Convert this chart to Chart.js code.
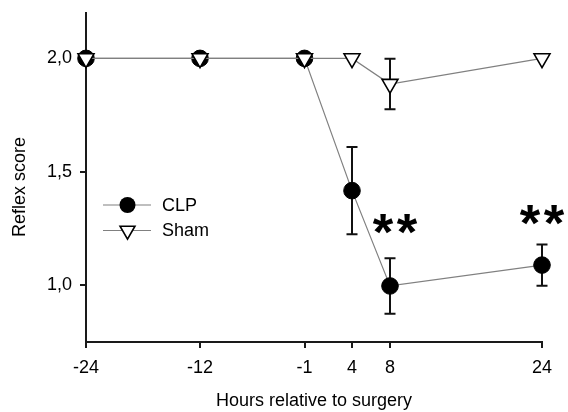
<!DOCTYPE html>
<html>
<head>
<meta charset="utf-8">
<script src="https://cdn.jsdelivr.net/npm/chart.js@4/dist/chart.umd.min.js"></script>
<style>
  html, body { margin: 0; padding: 0; background: #fff; }
  #wrap { width: 568px; height: 412px; }
</style>
</head>
<body>
<div id="wrap"><canvas id="c" width="568" height="412"></canvas></div>
<script>
// Reflex score over time, CLP vs. Sham (mean ± SEM)
const hours    = [-24, -12, -1, 4, 8, 24];
const clpMean  = [2.0, 2.0, 2.0, 1.417, 0.997, 1.089];
const clpSem   = [0, 0, 0, 0.192, 0.122, 0.091];
const shamMean = [2.0, 2.0, 2.0, 2.0, 1.887, 2.0];
const shamSem  = [0, 0, 0, 0, 0.111, 0];
const xTicks   = [-24, -12, -1, 4, 8, 24];
const yTicks   = [1.0, 1.5, 2.0];
const seriesNames = ['CLP', 'Sham'];
const signifHours = [8, 24];   // time points marked "**"

const FONT = '"Liberation Sans", Arial, Helvetica, sans-serif';
const LINE_GREY = '#808080';

function pts(xs, ys) { return xs.map((x, i) => ({ x: x, y: ys[i] })); }

function drawMarker(ctx, kind, x, y) {
  ctx.save();
  ctx.strokeStyle = '#000';
  ctx.lineWidth = 1.6;
  if (kind === 'circle') {
    ctx.fillStyle = '#000';
    ctx.beginPath();
    ctx.arc(x, y, 8, 0, Math.PI * 2);
    ctx.fill();
  } else {
    const r = 8.6;
    ctx.fillStyle = '#fff';
    ctx.beginPath();
    ctx.moveTo(x, y + r);
    ctx.lineTo(x - r * Math.sin(Math.PI / 3), y - r / 2);
    ctx.lineTo(x + r * Math.sin(Math.PI / 3), y - r / 2);
    ctx.closePath();
    ctx.fill();
    ctx.stroke();
  }
  ctx.restore();
}

// error bars (under the markers), legend, y title and significance marks
const extras = {
  id: 'extras',
  beforeDatasetsDraw(chart) {
    const ctx = chart.ctx, xs = chart.scales.x, ys = chart.scales.y;
    ctx.save();
    ctx.strokeStyle = '#111';
    ctx.lineWidth = 2;
    [[clpMean, clpSem], [shamMean, shamSem]].forEach(([m, s]) => {
      hours.forEach((h, i) => {
        if (!s[i]) return;
        const px = xs.getPixelForValue(h);
        const top = ys.getPixelForValue(m[i] + s[i]);
        const bot = ys.getPixelForValue(m[i] - s[i]);
        ctx.beginPath();
        ctx.moveTo(px, top); ctx.lineTo(px, bot);
        ctx.moveTo(px - 5.5, top); ctx.lineTo(px + 5.5, top);
        ctx.moveTo(px - 5.5, bot); ctx.lineTo(px + 5.5, bot);
        ctx.stroke();
      });
    });
    ctx.restore();
  },
  afterDatasetsDraw(chart) {
    const ctx = chart.ctx, xs = chart.scales.x, ys = chart.scales.y;
    // y-axis title
    ctx.save();
    ctx.fillStyle = '#000';
    ctx.font = '18px ' + FONT;
    ctx.textAlign = 'center';
    ctx.textBaseline = 'middle';
    ctx.translate(20, 187);
    ctx.rotate(-Math.PI / 2);
    ctx.fillText('Reflex score', 0, 0);
    ctx.restore();

    // legend
    const lx = 103, ly = 205, gap = 25.5;
    ['circle', 'triangle'].forEach((k, i) => {
      const y = ly + i * gap;
      ctx.save();
      ctx.strokeStyle = LINE_GREY;
      ctx.lineWidth = 1.2;
      ctx.beginPath();
      ctx.moveTo(lx, y); ctx.lineTo(lx + 48, y);
      ctx.stroke();
      ctx.restore();
      drawMarker(ctx, k, lx + 24.5, y);
      ctx.save();
      ctx.fillStyle = '#000';
      ctx.font = '18px ' + FONT;
      ctx.textBaseline = 'middle';
      ctx.textAlign = 'left';
      ctx.fillText(seriesNames[i], lx + 59, y + 1);
      ctx.restore();
    });

    // significance asterisks, sized so each glyph is ~20 px tall
    ctx.save();
    ctx.fillStyle = '#000';
    ctx.font = 'bold 50px ' + FONT;
    let m = ctx.measureText('*');
    const size = 50 * 20 / (m.actualBoundingBoxAscent + m.actualBoundingBoxDescent);
    ctx.font = 'bold ' + size.toFixed(1) + 'px ' + FONT;
    m = ctx.measureText('*');
    ctx.textAlign = 'center';
    ctx.textBaseline = 'alphabetic';
    const lift = [24, 19], shift = [5, 0];
    signifHours.forEach((h, j) => {
      const i = hours.indexOf(h);
      const cx = xs.getPixelForValue(h) + shift[j];
      const glyphBottom = ys.getPixelForValue(clpMean[i] + clpSem[i]) - lift[j];
      const base = glyphBottom - m.actualBoundingBoxDescent;
      ctx.fillText('*', cx - 12, base);
      ctx.fillText('*', cx + 12, base);
    });
    ctx.restore();
  }
};

new Chart(document.getElementById('c'), {
  type: 'line',
  data: {
    datasets: [
      {
        label: seriesNames[1],
        data: pts(hours, shamMean),
        borderColor: LINE_GREY,
        borderWidth: 1.2,
        pointStyle: 'triangle',
        rotation: 180,
        pointRadius: 9.2,
        pointBackgroundColor: '#fff',
        pointBorderColor: '#000',
        pointBorderWidth: 1.6,
        clip: false,
        tension: 0
      },
      {
        label: seriesNames[0],
        data: pts(hours, clpMean),
        borderColor: LINE_GREY,
        borderWidth: 1.2,
        pointStyle: 'circle',
        pointRadius: 8.3,
        pointBackgroundColor: '#000',
        pointBorderColor: '#000',
        pointBorderWidth: 1,
        clip: false,
        tension: 0
      }
    ]
  },
  options: {
    responsive: false,
    animation: false,
    events: [],
    layout: { padding: { top: 13, right: 26, left: 0, bottom: 0 } },
    plugins: { legend: { display: false }, tooltip: { enabled: false } },
    scales: {
      x: {
        type: 'linear',
        min: -24, max: 24,
        afterBuildTicks: s => { s.ticks = xTicks.map(v => ({ value: v })); },
        afterFit: s => { s.height = 70; s.paddingLeft = 0; s.paddingRight = 0; },
        ticks: {
          color: '#000', padding: 9, maxRotation: 0, autoSkip: false,
          font: { family: FONT, size: 18 },
          callback: v => String(v)
        },
        grid: { display: true, drawOnChartArea: false, drawTicks: true, tickLength: 6, color: '#1a1a1a', lineWidth: 2 },
        border: { display: true, color: '#1a1a1a', width: 2 },
        title: { display: true, text: 'Hours relative to surgery', color: '#000', font: { family: FONT, size: 18 }, padding: { top: 10, bottom: 0 } }
      },
      y: {
        type: 'linear',
        min: 0.75, max: 2.2,
        afterBuildTicks: s => { s.ticks = yTicks.map(v => ({ value: v })); },
        afterFit: s => { s.width = 86; s.paddingTop = 0; s.paddingBottom = 0; },
        ticks: {
          color: '#000', padding: 8,
          font: { family: FONT, size: 18 },
          callback: v => Number(v).toFixed(1).replace('.', ',')
        },
        grid: { display: true, drawOnChartArea: false, drawTicks: true, tickLength: 6, color: '#1a1a1a', lineWidth: 2 },
        border: { display: true, color: '#1a1a1a', width: 2 },
        title: { display: false }
      }
    }
  },
  plugins: [extras]
});
</script>
</body>
</html>
